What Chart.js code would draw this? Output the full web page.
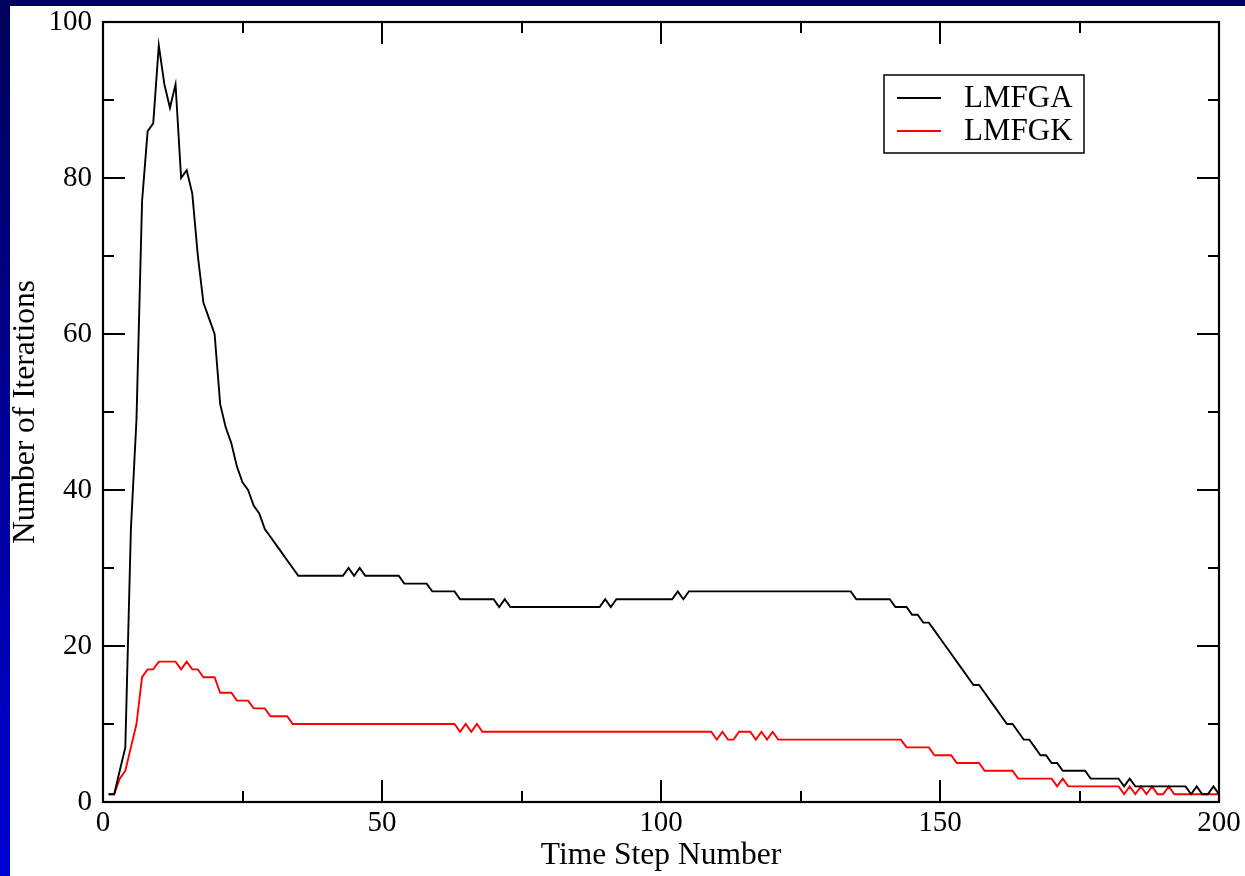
<!DOCTYPE html>
<html><head><meta charset="utf-8">
<script src="https://cdn.jsdelivr.net/npm/chart.js@4.4.1/dist/chart.umd.min.js"></script>
<style>
html,body{margin:0;padding:0;width:1245px;height:876px;overflow:hidden;background:linear-gradient(180deg,#00005a 0%,#0000d4 100%);}
#wrap{position:absolute;left:10px;top:6px;width:1235px;height:870px;background:#fff;}
</style></head><body>
<div id="wrap"><canvas id="c"></canvas></div>
<script>
const steps = Array.from({length: 200}, (_, i) => i + 1);

const lmfga = [
  1,1,4,7,35,49,77,86,87,97,
  92,89,92,80,81,78,70,64,62,60,
  51,48,46,43,41,40,38,37,35,34,
  33,32,31,30,29,29,29,29,29,29,
  29,29,29,30,29,30,29,29,29,29,
  29,29,29,28,28,28,28,28,27,27,
  27,27,27,26,26,26,26,26,26,26,
  25,26,25,25,25,25,25,25,25,25,
  25,25,25,25,25,25,25,25,25,26,
  25,26,26,26,26,26,26,26,26,26,
  26,26,27,26,27,27,27,27,27,27,
  27,27,27,27,27,27,27,27,27,27,
  27,27,27,27,27,27,27,27,27,27,
  27,27,27,27,26,26,26,26,26,26,
  26,25,25,25,24,24,23,23,22,21,
  20,19,18,17,16,15,15,14,13,12,
  11,10,10,9,8,8,7,6,6,5,
  5,4,4,4,4,4,3,3,3,3,
  3,3,2,3,2,2,2,2,2,2,
  2,2,2,2,1,2,1,1,2,1
];

const lmfgk = [
  1,1,3,4,7,10,16,17,17,18,
  18,18,18,17,18,17,17,16,16,16,
  14,14,14,13,13,13,12,12,12,11,
  11,11,11,10,10,10,10,10,10,10,
  10,10,10,10,10,10,10,10,10,10,
  10,10,10,10,10,10,10,10,10,10,
  10,10,10,9,10,9,10,9,9,9,
  9,9,9,9,9,9,9,9,9,9,
  9,9,9,9,9,9,9,9,9,9,
  9,9,9,9,9,9,9,9,9,9,
  9,9,9,9,9,9,9,9,9,8,
  9,8,8,9,9,9,8,9,8,9,
  8,8,8,8,8,8,8,8,8,8,
  8,8,8,8,8,8,8,8,8,8,
  8,8,8,7,7,7,7,7,6,6,
  6,6,5,5,5,5,5,4,4,4,
  4,4,4,3,3,3,3,3,3,3,
  2,3,2,2,2,2,2,2,2,2,
  2,2,1,2,1,2,1,2,1,1,
  2,1,1,1,1,1,1,1,1,1
];

const seriesNames = ['LMFGA', 'LMFGK'];
const xTickLabels = [0, 50, 100, 150, 200];
const xMinorTicks = [25, 75, 125, 175];
const yTickLabels = [0, 20, 40, 60, 80, 100];
const yMinorTicks = [10, 30, 50, 70, 90];

const FONT = "'Liberation Serif', 'Times New Roman', serif";

const frameTicks = {
  id: 'frameTicks',
  afterDatasetsDraw(chart) {
    const {ctx, chartArea: a, scales: {x, y}} = chart;
    ctx.save();
    ctx.strokeStyle = '#000';
    ctx.lineWidth = 2;
    ctx.beginPath();
    const vx = (v, len) => {
      const p = Math.round(x.getPixelForValue(v));
      ctx.moveTo(p, a.bottom); ctx.lineTo(p, a.bottom - len);
      ctx.moveTo(p, a.top); ctx.lineTo(p, a.top + len);
    };
    const hy = (v, len) => {
      const p = Math.round(y.getPixelForValue(v));
      ctx.moveTo(a.left, p); ctx.lineTo(a.left + len, p);
      ctx.moveTo(a.right, p); ctx.lineTo(a.right - len, p);
    };
    xTickLabels.forEach(v => vx(v, 22));
    xMinorTicks.forEach(v => vx(v, 11));
    yTickLabels.forEach(v => hy(v, 22));
    yMinorTicks.forEach(v => hy(v, 11));
    ctx.stroke();
    ctx.lineWidth = 2.2;
    ctx.strokeRect(a.left, a.top, a.right - a.left, a.bottom - a.top);
    ctx.restore();
  }
};

const boxLegend = {
  id: 'boxLegend',
  afterDraw(chart) {
    const {ctx} = chart;
    const bx = 874, by = 69, bw = 200, bh = 78;
    ctx.save();
    ctx.fillStyle = '#fff';
    ctx.fillRect(bx, by, bw, bh);
    ctx.strokeStyle = '#000';
    ctx.lineWidth = 1.5;
    ctx.strokeRect(bx, by, bw, bh);
    ctx.font = '31px ' + FONT;
    ctx.textBaseline = 'middle';
    ctx.textAlign = 'left';
    chart.data.datasets.forEach((ds, i) => {
      const cy = by + 23 + i * 33;
      ctx.strokeStyle = ds.borderColor;
      ctx.lineWidth = 1.8;
      ctx.beginPath();
      ctx.moveTo(bx + 13, cy); ctx.lineTo(bx + 57, cy);
      ctx.stroke();
      ctx.fillStyle = '#000';
      ctx.fillText(ds.label, bx + 80, cy + 1);
    });
    ctx.restore();
  }
};

new Chart(document.getElementById('c'), {
  type: 'line',
  data: {
    datasets: [
      {label: seriesNames[0], data: steps.map((s, i) => ({x: s, y: lmfga[i]})), borderColor: '#000000', borderWidth: 1.9, pointRadius: 0, fill: false, tension: 0},
      {label: seriesNames[1], data: steps.map((s, i) => ({x: s, y: lmfgk[i]})), borderColor: '#ff0000', borderWidth: 1.9, pointRadius: 0, fill: false, tension: 0}
    ]
  },
  options: {
    responsive: true,
    maintainAspectRatio: false,
    animation: false,
    layout: {padding: {left: 0, right: 26, top: 16, bottom: 0}},
    plugins: {legend: {display: false}, tooltip: {enabled: false}},
    scales: {
      x: {
        type: 'linear', min: 0, max: 200,
        afterFit(s) { s.height = 74; s.paddingLeft = 0; s.paddingRight = 0; },
        afterBuildTicks(s) { s.ticks = xTickLabels.map(v => ({value: v})); },
        ticks: {font: {family: FONT, size: 29, lineHeight: 1}, color: '#000', padding: 7, maxRotation: 0, autoSkip: false},
        grid: {display: false, drawTicks: false},
        border: {display: false},
        title: {display: true, text: 'Time Step Number', color: '#000', font: {family: FONT, size: 31.5, lineHeight: 1}, padding: {top: 0, bottom: 5}}
      },
      y: {
        type: 'linear', min: 0, max: 100,
        afterFit(s) { s.width = 93; s.paddingTop = 0; s.paddingBottom = 0; },
        afterBuildTicks(s) { s.ticks = yTickLabels.map(v => ({value: v})); },
        ticks: {font: {family: FONT, size: 29, lineHeight: 1}, color: '#000', padding: 11},
        grid: {display: false, drawTicks: false},
        border: {display: false},
        title: {display: true, text: 'Number of Iterations', color: '#000', font: {family: FONT, size: 31.5, lineHeight: 1}, padding: {top: 0, bottom: 0}}
      }
    }
  },
  plugins: [frameTicks, boxLegend]
});
</script>
</body></html>
